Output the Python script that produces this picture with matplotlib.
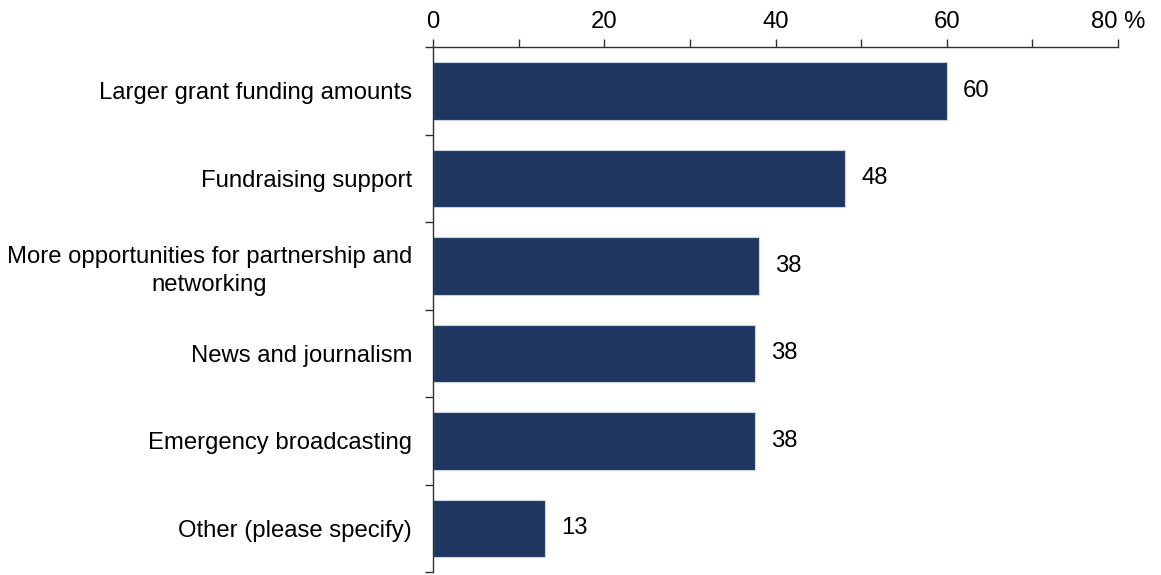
import numpy as np
import matplotlib
matplotlib.use("Agg")
import matplotlib.pyplot as plt
from matplotlib.ticker import FixedLocator, MultipleLocator

plt.rcParams["font.family"] = ["Liberation Sans", "DejaVu Sans"]

categories = [
    "Larger grant funding amounts",
    "Fundraising support",
    "More opportunities for partnership and\nnetworking",
    "News and journalism",
    "Emergency broadcasting",
    "Other (please specify)",
]
values = [60.0, 48.1, 38.1, 37.6, 37.6, 13.1]
labels = ["60", "48", "38", "38", "38", "13"]
xticks = [0, 20, 40, 60, 80]
xtick_labels = ["0", "20", "40", "60", "80 %"]

BAR_COLOR = "#1f3760"
FS = 17.2

fig = plt.figure(figsize=(11.61, 5.75), dpi=100)
ax = fig.add_axes([0.373, 0.005, 0.59, 0.913])

y = np.arange(len(categories))
ax.barh(y, values, height=0.66, color=BAR_COLOR, edgecolor="#c9d3e3", linewidth=0.8)

for yi, v, lab in zip(y, values, labels):
    ax.text(v + 1.9, yi, lab, va="center", ha="left", fontsize=FS)

ax.set_ylim(len(categories) - 0.5, -0.5)
ax.set_xlim(0, 80)

# x axis on top
ax.xaxis.tick_top()
ax.set_xticks(xticks)
ax.set_xticklabels(xtick_labels, fontsize=FS)
ax.xaxis.set_minor_locator(MultipleLocator(10))
ax.tick_params(axis="x", which="both", direction="out", length=6, width=1,
               color="#303030", pad=4)

# y axis: labels centred on bars, ticks at category boundaries
ax.set_yticks(y)
ax.set_yticklabels(categories, fontsize=FS)
ax.tick_params(axis="y", which="major", length=0, pad=15)
ax.yaxis.set_minor_locator(FixedLocator(np.arange(-0.5, len(categories), 1.0)))
ax.tick_params(axis="y", which="minor", direction="out", length=6, width=1, color="#303030")

for lab in ax.get_yticklabels():
    lab.set_multialignment("center")
    lab.set_linespacing(1.35)

for side in ["right", "bottom"]:
    ax.spines[side].set_visible(False)
for side in ["left", "top"]:
    ax.spines[side].set_color("#303030")
    ax.spines[side].set_linewidth(1)

fig.savefig("out.png", dpi=100)
